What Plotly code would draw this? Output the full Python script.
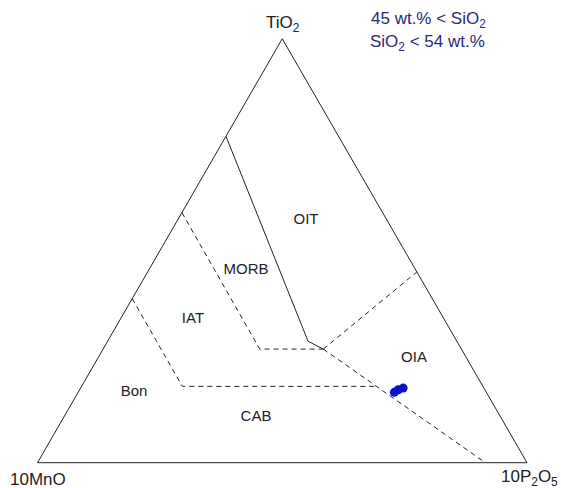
import plotly.graph_objects as go

# Sample compositions (normalised: TiO2, 10*MnO, 10*P2O5)
sample_tio2 = [0.166, 0.172, 0.176]
sample_mno = [0.188, 0.177, 0.165]
sample_p2o5 = [0.646, 0.651, 0.659]

# Field boundaries of the Mullen (1983) diagram, as (TiO2, 10MnO, 10P2O5)
solid_line = [(0.77, 0.23, 0.00), (0.2865, 0.304, 0.4095), (0.268, 0.282, 0.45)]
dashed_lines = [
    [(0.59, 0.41, 0.00), (0.268, 0.412, 0.32), (0.268, 0.282, 0.45)],
    [(0.268, 0.282, 0.45), (0.45, 0.00, 0.55)],
    [(0.268, 0.282, 0.45), (0.00, 0.085, 0.915)],
    [(0.387, 0.613, 0.00), (0.18, 0.614, 0.206), (0.18, 0.2174, 0.6026)],
]

# Field names and their label positions
field_names = ["OIT", "MORB", "IAT", "OIA", "Bon", "CAB"]
field_tio2 = [0.5725, 0.4546, 0.339, 0.247, 0.1668, 0.1078]
field_mno = [0.1652, 0.3468, 0.5129, 0.1073, 0.7194, 0.4997]
field_p2o5 = [0.2623, 0.1986, 0.1481, 0.6457, 0.1138, 0.3925]

fig = go.Figure()


def add_path(points, dash):
    fig.add_trace(go.Scatterternary(
        a=[p[0] for p in points],
        b=[p[1] for p in points],
        c=[p[2] for p in points],
        mode="lines",
        line=dict(color="#222222", width=1, dash=dash),
        hoverinfo="skip",
        showlegend=False,
    ))


add_path(solid_line, "solid")
for seg in dashed_lines:
    add_path(seg, "5px,4px")

fig.add_trace(go.Scatterternary(
    a=field_tio2, b=field_mno, c=field_p2o5,
    mode="text", text=field_names, textposition="middle center",
    textfont=dict(family="Liberation Sans, Arial, sans-serif", size=15, color="#222222"),
    hoverinfo="skip", showlegend=False,
))

fig.add_trace(go.Scatterternary(
    a=sample_tio2, b=sample_mno, c=sample_p2o5,
    mode="markers",
    marker=dict(color="#0a10cc", size=9, line=dict(width=0)),
    showlegend=False,
))

W, H = 561, 488
tri_w = 489.5
tri_h = tri_w * 3 ** 0.5 / 2
left, base = 37.5, 462.7

axis_style = dict(
    showticklabels=False, ticks="", showgrid=False,
    linecolor="#222222", linewidth=1, title=dict(text=""),
)

fig.update_layout(
    width=W, height=H,
    margin=dict(l=0, r=0, t=0, b=0),
    paper_bgcolor="white",
    ternary=dict(
        domain=dict(x=[left / W, (left + tri_w) / W],
                    y=[(H - base) / H, (H - base + tri_h) / H]),
        sum=1,
        bgcolor="white",
        aaxis=axis_style, baxis=axis_style, caxis=axis_style,
    ),
    font=dict(family="Liberation Sans, Arial, sans-serif"),
)


def add_label(x, y, text, font):
    fig.add_annotation(x=x / W, y=1 - y / H, xref="paper", yref="paper",
                       xanchor="center", yanchor="middle",
                       text=text, showarrow=False, font=font)


label_font = dict(family="Liberation Sans, Arial, sans-serif", size=17, color="#222222")
add_label(283, 24, "TiO<sub>2</sub>", label_font)
add_label(38, 479, "10MnO", label_font)
add_label(529, 478, "10P<sub>2</sub>O<sub>5</sub>", label_font)

note_font = dict(family="Liberation Sans, Arial, sans-serif", size=17, color="#2a2a7a")
add_label(429, 20, "45 wt.% &lt; SiO<sub>2</sub>", note_font)
add_label(427, 43, "SiO<sub>2</sub> &lt; 54 wt.%", note_font)

fig.write_html("out.html")
